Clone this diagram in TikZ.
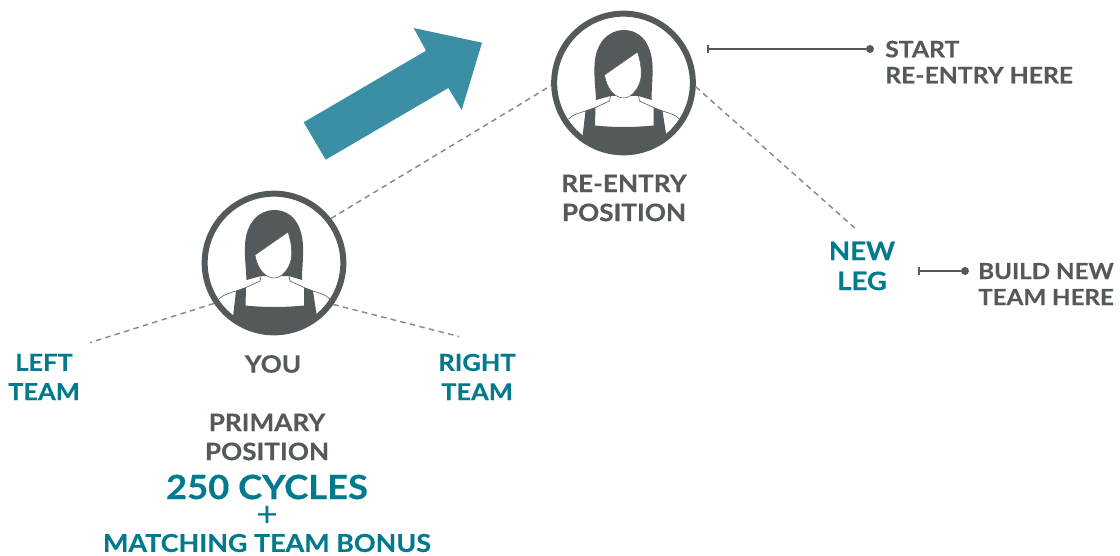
\documentclass[tikz,border=0pt]{standalone}
\usepackage{fontspec}
\setmainfont[FakeStretch=1.09,BoldFeatures={FakeBold=0.35}]{Lato}
\usetikzlibrary{arrows.meta}

\definecolor{slate}{HTML}{54595B}
\definecolor{tealtext}{HTML}{007A8C}
\definecolor{tealarrow}{HTML}{3A8FA5}

\tikzset{
	avatar/.style={circle, draw=slate, line width=4.5pt, fill=white, minimum size=104pt, inner sep=0pt},
	guide/.style={dash pattern=on 4.2pt off 3.2pt, draw=slate!70, line width=1.1pt},
	pointer/.style={draw=slate, line width=1.2pt, {Bar[width=6pt,length=1pt]}-},
	grey/.style={text=slate, font=\bfseries\fontsize{18}{21.8}\selectfont, align=center, inner sep=0pt},
	side/.style={text=slate, font=\bfseries\fontsize{17}{19.5}\selectfont, align=left, anchor=west, inner sep=0pt},
	teal/.style={text=tealtext, font=\bfseries\fontsize{17.5}{22}\selectfont, align=center, inner sep=0pt},
	enddot/.style={circle, fill=slate, minimum size=6pt, inner sep=0pt},
	person/.pic={
		\begin{scope}
			\clip (0,0) circle (69);
			\fill[slate] (-38,28) -- (-28,24.5) -- (-28.5,42.5) .. controls (-10,44.5) and (10,44.5) .. (30,42.5) -- (30,24.5) -- (39,28) -- (43,54) -- (43,80) -- (-43,80) -- (-41,54) -- cycle;
			\draw[slate, line width=0.45pt] (-55,36) .. controls (-50,31) and (-44,30) .. (-38,28) -- (-28,24.5) -- (-14,18) .. controls (-13.5,16) and (-13.5,15) .. (-13,13);
			\draw[slate, line width=0.45pt] (56,36) .. controls (51,31) and (45,30) .. (39,28) -- (30,24.5) -- (16,18) .. controls (15.5,16) and (15.5,15) .. (15,13);
		\end{scope}
		\fill[slate] (-27.5,17) .. controls (-28,5) and (-29.5,-5) .. (-29,-17) .. controls (-28.5,-40) and (-15,-53) .. (0,-53) .. controls (17,-53) and (28,-40) .. (29,-17) .. controls (29.5,-5) and (28,5) .. (28,17) -- (15,13) -- (-13,13) -- cycle;
		\filldraw[fill=white, draw=slate, line width=0.4pt] (-19,-8) -- (14,-31) .. controls (17,-22) and (18,-14) .. (17.7,-7) .. controls (17,3) and (9,15) .. (0,15) .. controls (-9,15) and (-17,5) .. (-19,-8) -- cycle;
	}
}

\begin{document}
\begin{tikzpicture}[x=0.75pt, y=-0.75pt]

	\useasboundingbox (0,0) rectangle (1120,556);

	% big arrow
	\fill[tealarrow] (303.7,122.3) -- (325.7,159.7) -- (448.3,88) -- (461.7,110) -- (482,42.7) -- (413.7,28) -- (426,50.7) -- cycle;

	\node[avatar] (you) at (274,263) {};
	\node[avatar] (reentry) at (623.5,83) {};
	\pic at (you.center) {person};
	\pic at (reentry.center) {person};

	\coordinate (leftend) at (90,342.6);
	\coordinate (rightend) at (459,336.5);
	\coordinate (legend) at (857,230);
	\coordinate (startbar) at (707,49);
	\coordinate (buildbar) at (918,271);

	\draw[guide] (you.38) -- (reentry.182);
	\draw[guide] (you.214) -- (leftend);
	\draw[guide] (you.-35) -- (rightend);
	\draw[guide] (reentry.-3) -- (legend);

	\node[grey] (youlabel) at (273,364) {YOU};
	\node[grey] (primary) at (267,437) {PRIMARY\\POSITION};
	\node[grey] (entrylabel) at (624,198) {RE-ENTRY\\POSITION};
	\node[side] (startlabel) at (885,62) {START\\RE-ENTRY HERE};
	\node[side, font=\bfseries\fontsize{16.6}{19.5}\selectfont] (buildlabel) at (978,284) {BUILD NEW\\TEAM HERE};

	\node[teal] (leftteam) at (44,377) {LEFT\\TEAM};
	\node[teal] (rightteam) at (477,377) {RIGHT\\TEAM};
	\node[teal, font=\bfseries\fontsize{19}{22.5}\selectfont] (newleg) at (862,266) {NEW\\LEG};
	\node[teal, font=\bfseries\fontsize{25}{28}\selectfont] (cycles) at (267,487) {250 CYCLES};
	\node[teal, font=\fontsize{26}{26}\selectfont] (plus) at (267,516) {+};
	\node[teal, font=\bfseries\fontsize{18.5}{22}\selectfont] (bonus) at (267,543) {MATCHING TEAM BONUS};

	\node[enddot] (startdot) at (870,49) {};
	\node[enddot] (builddot) at (965,271) {};
	\draw[pointer] (startbar) -- (startdot);
	\draw[pointer] (buildbar) -- (builddot);
\end{tikzpicture}
\end{document}
